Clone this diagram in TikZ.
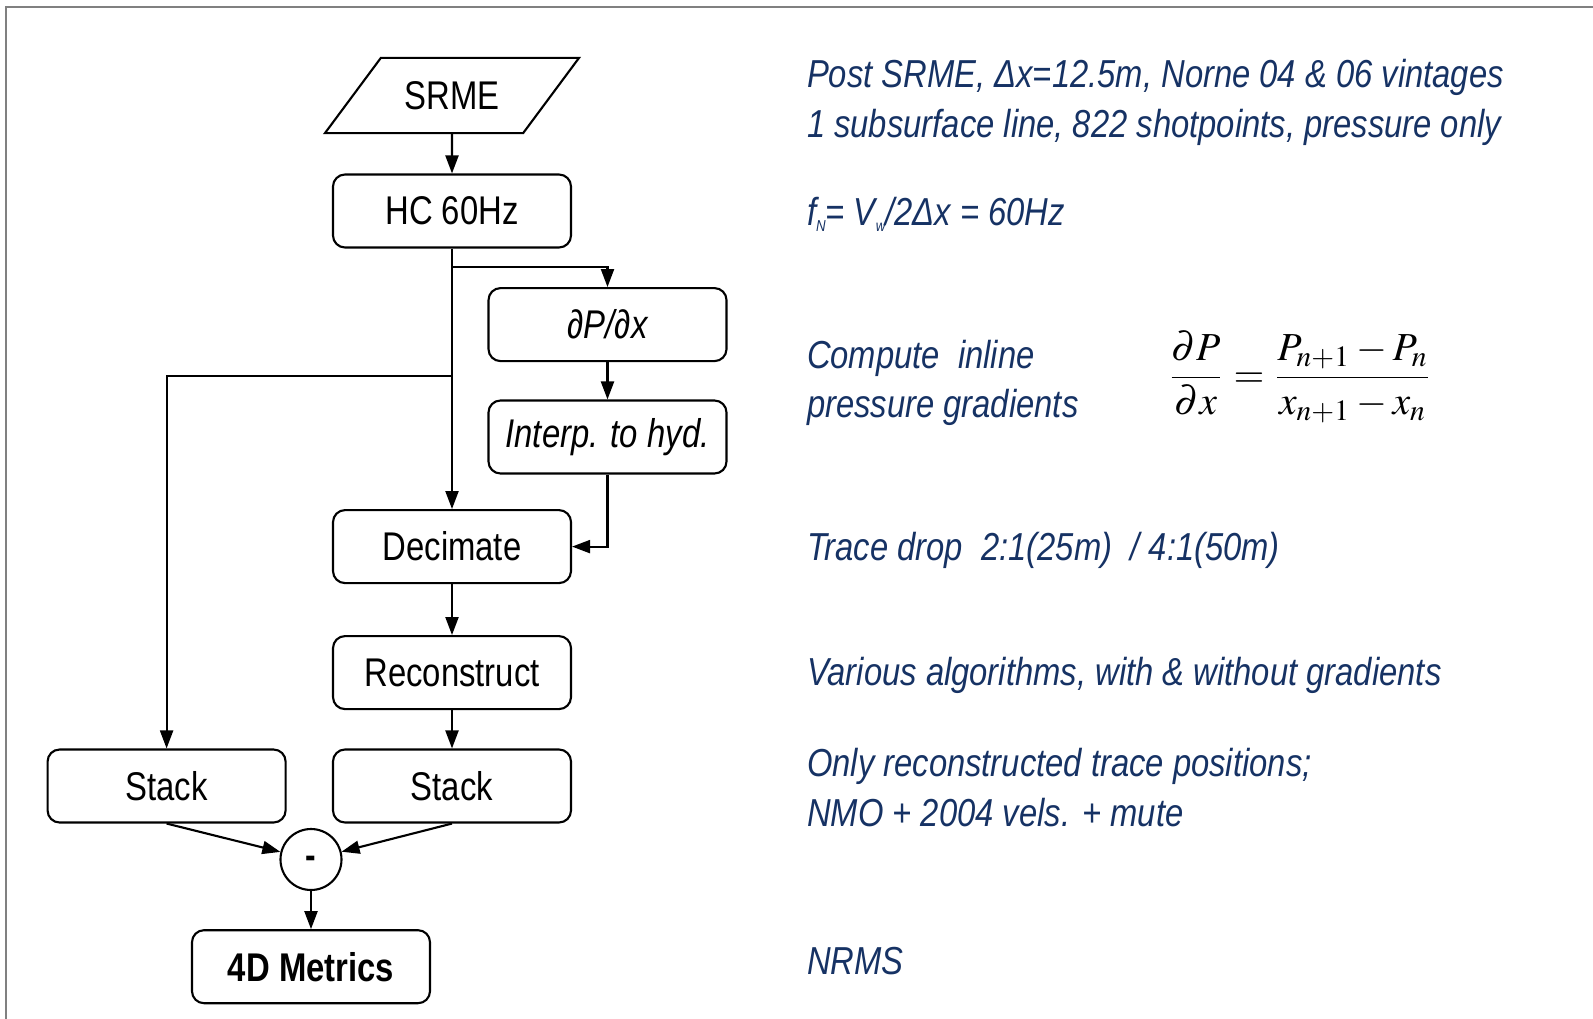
\documentclass[tikz,border=0pt]{standalone}
\usepackage{mathptmx}
\usepackage{fontspec}
\setmainfont{Liberation Sans}[FakeStretch=0.82]
\newfontfamily\notefont{Liberation Sans}[FakeStretch=0.84]
\usepackage{tikz}
\usetikzlibrary{shapes.geometric, arrows.meta, positioning, calc}

\definecolor{notecol}{RGB}{22,50,100}
\definecolor{framecol}{RGB}{128,128,128}

\tikzset{
  procbox/.style={draw, rounded corners=1.2mm, minimum width=2.38cm, minimum height=0.73cm,
    inner sep=0pt, font=\fontsize{11.4}{13}\selectfont},
  inbox/.style={draw, trapezium, trapezium left angle=53.4, trapezium right angle=126.6,
    trapezium stretches body, minimum width=2.54cm, inner xsep=0pt, inner ysep=2.34mm,
    font=\fontsize{11.4}{13}\selectfont},
  diffnode/.style={draw, circle, minimum size=0.61cm, inner sep=0pt, font=\bfseries\fontsize{11}{13}\selectfont},
  note/.style={anchor=base west, inner sep=0pt, text=notecol, font=\notefont\itshape\fontsize{11.1}{13}\selectfont}
}

\begin{document}
\begin{tikzpicture}[>={Triangle[length=1.8mm,width=1.3mm]}, line width=0.6pt]
    \useasboundingbox (0,0) rectangle (15.93,-10.19);

    % Frame, only top and left edges fall inside the page
    \draw[framecol, line width=0.8pt] (0.06,-10.3) -- (0.06,-0.07) -- (16.1,-0.07);

    % Flow chart boxes
    \node[inbox] (srme) at (4.52,-0.955) {SRME};
    \node[procbox] (hc) at (4.52,-2.11) {HC 60Hz};
    \node[procbox] (dpdx) at (6.075,-3.246) {\itshape ∂P/∂x};
    \node[procbox] (interp) at (6.075,-4.37) {\itshape Interp. to hyd.};
    \node[procbox] (dec) at (4.52,-5.466) {Decimate};
    \node[procbox] (rec) at (4.52,-6.726) {Reconstruct};
    \node[procbox] (stackR) at (4.52,-7.86) {Stack};
    \node[procbox] (stackL) at (1.666,-7.86) {Stack};
    \node[diffnode] (minus) at (3.11,-8.595) {\raisebox{-0.9ex}{-}};
    \node[procbox, font=\bfseries\fontsize{11.4}{13}\selectfont] (metrics) at (3.11,-9.667) {4D Metrics};

    % Branch points on the main line
    \coordinate (split1) at (4.52,-2.67);
    \coordinate (split2) at (4.52,-3.76);

    % Connectors
    \draw[->] (srme) -- (hc);
    \draw[->] (hc) -- (dec);
    \draw[->] (split1) -| (dpdx);
    \draw[->] (dpdx) -- (interp);
    \draw[->] (interp) |- (dec);
    \draw[->] (split2) -| (stackL);
    \draw[->] (dec) -- (rec);
    \draw[->] (rec) -- (stackR);
    \draw[->] (stackL.south) -- (minus);
    \draw[->] (stackR.south) -- (minus);
    \draw[->] (minus) -- (metrics);

    % Notes on the right
    \node[note] (n1) at (8.06,-0.87) {Post SRME, Δx=12.5m, Norne 04 \& 06 vintages};
    \node[note] (n2) at (8.06,-1.37) {1 subsurface line,\ 822 shotpoints, pressure only};
    \node[note] (n3) at (8.06,-2.25) {f\raisebox{-0.3ex}{\fontsize{4.5}{5}\selectfont N}= V\raisebox{-0.3ex}{\fontsize{4.5}{5}\selectfont w}/2Δx = 60Hz};
    \node[note] (n4) at (8.06,-3.686) {Compute\ \ inline};
    \node[note] (n5) at (8.06,-4.17) {pressure gradients};
    \node[note] (n6) at (8.06,-5.606) {Trace drop\ \ 2:1(25m)\ \ / 4:1(50m)};
    \node[note] (n7) at (8.06,-6.856) {Various algorithms, with \& without gradients};
    \node[note] (n8) at (8.06,-7.76) {Only reconstructed trace positions;};
    \node[note] (n9) at (8.06,-8.26) {NMO + 2004 vels. + mute};
    \node[note] (n10) at (8.06,-9.74) {NRMS};

    % Finite difference gradient
    \node[inner sep=0pt, font=\fontsize{11.3}{14}\selectfont] (grad) at (13.0,-3.77)
        {$\displaystyle \frac{\partial P}{\partial x}=\frac{P_{n+1}-P_{n}}{x_{n+1}-x_{n}}$};
\end{tikzpicture}
\end{document}
